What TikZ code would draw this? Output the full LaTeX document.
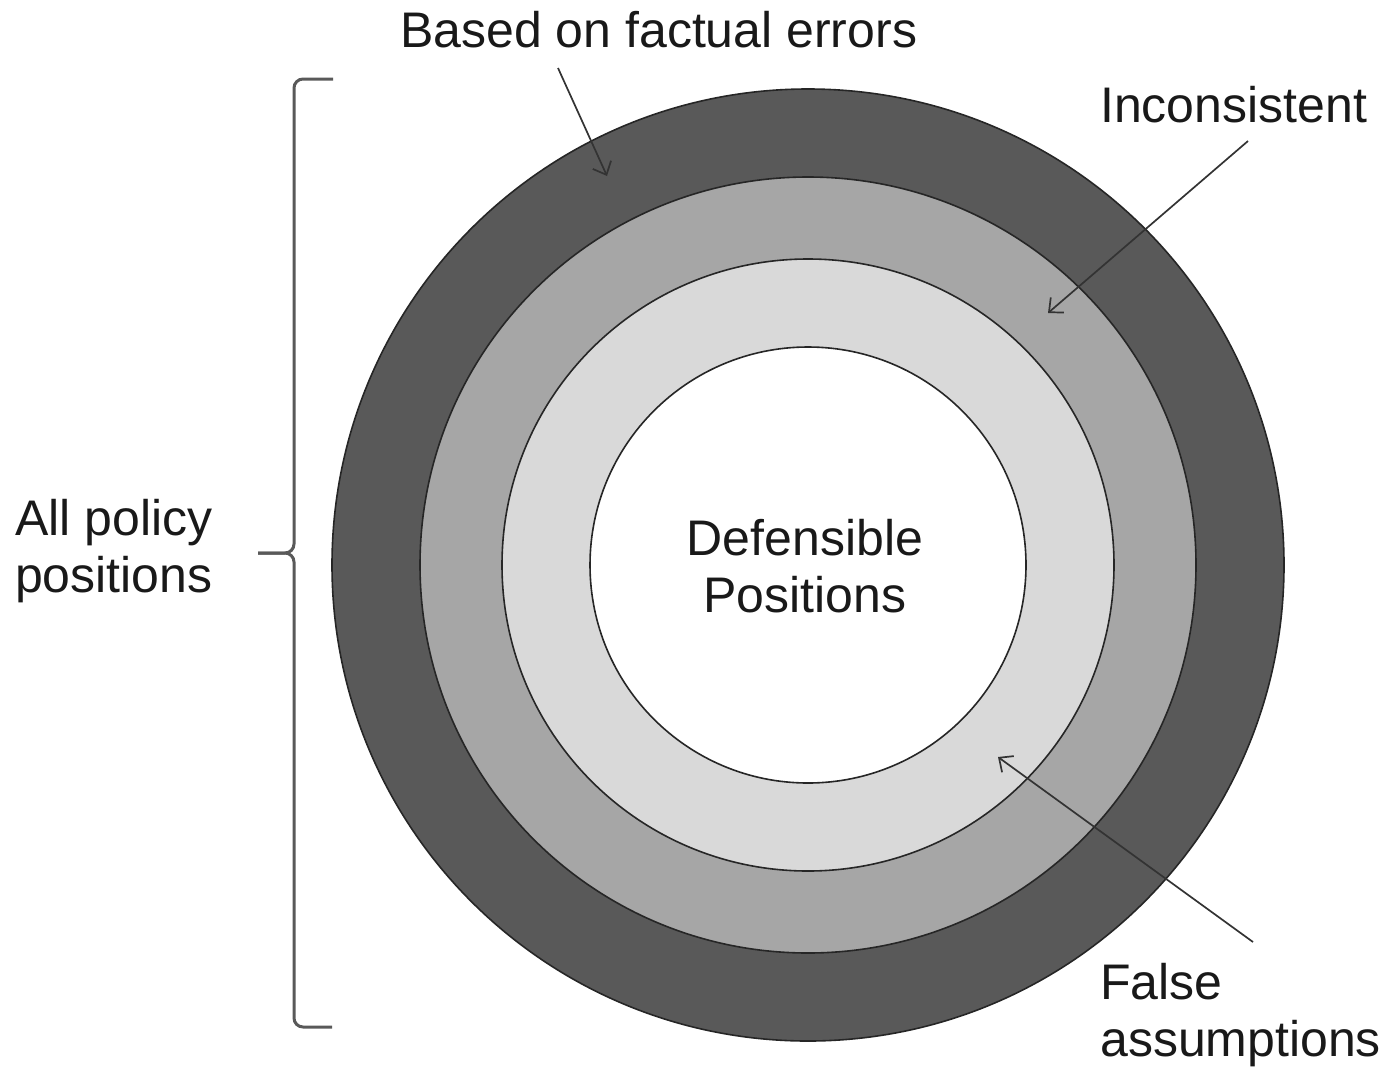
\documentclass[tikz,border=0pt]{standalone}
\usepackage{fontspec}
\setmainfont{Liberation Sans}
\usetikzlibrary{arrows.meta}

\definecolor{ringdark}{HTML}{595959}
\definecolor{ringmid}{HTML}{A6A6A6}
\definecolor{ringlight}{HTML}{D9D9D9}

\tikzset{
  ring/.style={circle, draw=black!85, line width=1.6pt, inner sep=0pt},
  lbl/.style={font=\fontsize{50}{57}\selectfont, text=black!90, inner sep=0pt},
  pointer/.style={draw=black!80, line width=1.7pt,
    -{Straight Barb[length=11pt,width=20pt]}},
}

\begin{document}
\begin{tikzpicture}[x=1pt,y=-1pt]
  \useasboundingbox (0,0) rectangle (1383,1066);

  \node[ring, fill=ringdark,  minimum size=952pt] (factual) at (808,565) {};
  \node[ring, fill=ringmid,   minimum size=776pt] (incons)  at (808,565) {};
  \node[ring, fill=ringlight, minimum size=612pt] (assump)  at (808,565) {};
  \node[ring, fill=white,     minimum size=436pt] (defens)  at (808,565) {};

  \node[lbl, align=center] (deflbl) at (805,566) {Defensible\\Positions};
  \node[lbl, anchor=base west] (factlbl) at (400,47) {Based on factual errors};
  \node[lbl, anchor=base west] (inclbl) at (1100,122) {Inconsistent};
  \node[lbl, align=left, anchor=west] (falselbl) at (1100,1015) {False\\assumptions};
  \node[lbl, align=left, anchor=west] (alllbl) at (15,551) {All policy\\positions};

  % arrow ends
  \coordinate (fact-a) at (558,68);
  \coordinate (fact-b) at (607,176);
  \coordinate (inc-a) at (1248,141);
  \coordinate (inc-b) at (1048,313);
  \coordinate (false-a) at (1253,942);
  \coordinate (false-b) at (998,757);

  \draw[pointer] (fact-a) -- (fact-b);
  \draw[pointer] (inc-a) -- (inc-b);
  \draw[pointer] (false-a) -- (false-b);

  % brace
  \coordinate (brace-top) at (333,79);
  \coordinate (brace-tip) at (258,553);
  \coordinate (brace-bot) at (332,1027);
  \draw[ringdark, line width=3pt, rounded corners=9pt]
    (brace-top) -- (294,79) -- (294,553) -- (brace-tip);
  \draw[ringdark, line width=3pt, rounded corners=9pt]
    (brace-tip) -- (294,553) -- (294,1027) -- (brace-bot);
\end{tikzpicture}
\end{document}
